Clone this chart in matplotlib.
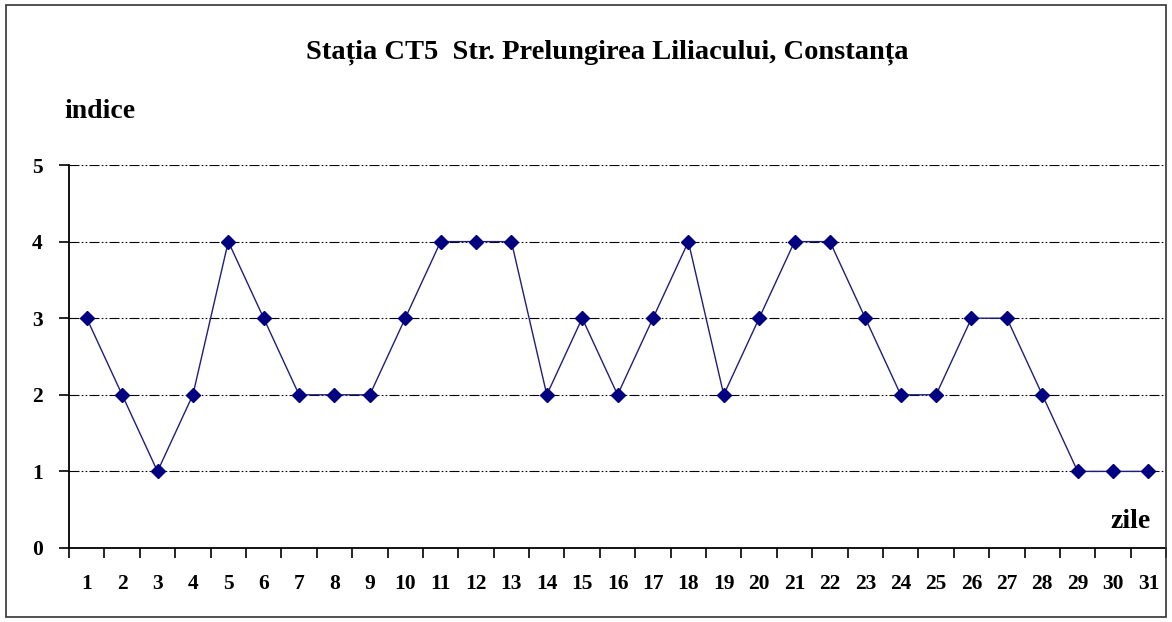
import matplotlib.pyplot as plt
from matplotlib.patches import Rectangle

days = list(range(1, 32))
indice = [3, 2, 1, 2, 4, 3, 2, 2, 2, 3, 4, 4, 4, 2, 3, 2, 3, 4, 2, 3, 4, 4, 3, 2, 2, 3, 3, 2, 1, 1, 1]
yticks = [0, 1, 2, 3, 4, 5]
title = "Stația CT5  Str. Prelungirea Liliacului, Constanța"

plt.rcParams['font.family'] = ['Liberation Serif', 'DejaVu Serif']
plt.rcParams['font.weight'] = 'bold'

fig = plt.figure(figsize=(11.72, 6.22), dpi=100)
ax = fig.add_axes([0.0589, 0.119, 0.9361, 0.6157])

# frame round the whole chart
fig.patches.append(Rectangle((0.005, 0.008), 0.99, 0.984, transform=fig.transFigure,
                             fill=False, edgecolor='#333333', linewidth=1.2))

ax.plot(days, indice, color='#1f1f7a', linewidth=1.0, marker='D', markersize=7,
        markerfacecolor='#000080', markeredgecolor='#000080', zorder=3)

ax.set_xlim(0.5, 31.5)
ax.set_ylim(0, 5)
ax.set_yticks(yticks)
ax.set_xticks(days)
ax.set_xticklabels([str(d) for d in days])
ax.set_xticks([d + 0.5 for d in range(0, 32)], minor=True)
ax.tick_params(axis='x', which='major', length=0, pad=19, labelsize=15.5)
ax.tick_params(axis='x', which='minor', length=7, width=1.2, direction='out')
ax.tick_params(axis='y', length=7, width=1.2, direction='out', labelsize=15.5, pad=12)

for y in yticks[1:]:
    ax.axhline(y, color='black', linewidth=0.8, linestyle=(0, (9, 2, 1.5, 2, 1.5, 2)), zorder=1)

for s in ['top', 'right']:
    ax.spines[s].set_visible(False)
ax.spines['left'].set_linewidth(1.3)
ax.spines['bottom'].set_linewidth(1.3)

fig.text(0.518, 0.916, title, ha='center', va='center', fontsize=20.5, fontweight='bold')
fig.text(0.055, 0.82, "indice", ha='left', va='center', fontsize=20, fontweight='bold')
fig.text(0.982, 0.162, "zile", ha='right', va='center', fontsize=20, fontweight='bold')

fig.savefig('out.png', dpi=100)
